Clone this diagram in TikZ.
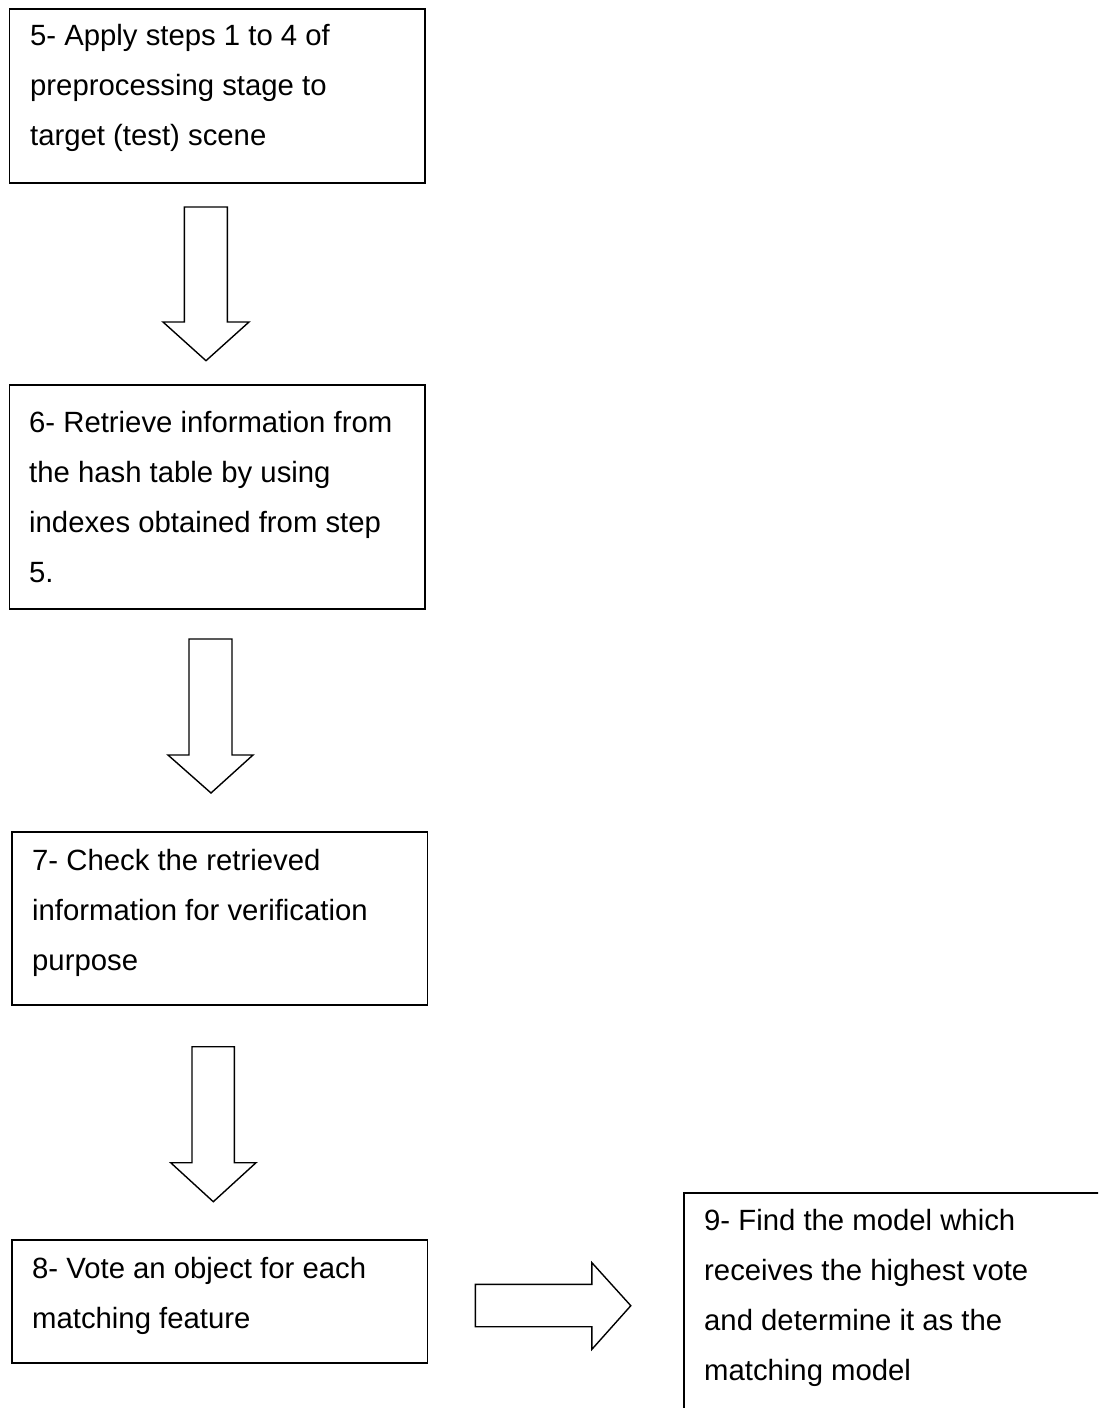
\documentclass[tikz,border=0pt]{standalone}
\usepackage{fontspec}
\setmainfont{Liberation Sans}
\begin{document}
\begin{tikzpicture}[x=1pt,y=-1pt,
  stepbox/.style={draw=black, line width=1.5pt, fill=none, inner sep=0pt, anchor=north west, minimum width=415.5pt},
  steptext/.style={inner sep=0pt, anchor=north west, align=left, font=\fontsize{29.3}{50}\selectfont},
  blockarrow/.style={draw=black, line width=1.4pt, fill=white, line join=miter}]
\useasboundingbox (0,0) rectangle (1098,1408);
\fill[white] (0,0) rectangle (1098,1408);

% boxes
\node[stepbox, minimum height=174pt] (b5) at (8.5,8) {};
\node[stepbox, minimum height=224pt] (b6) at (8.5,384) {};
\node[stepbox, minimum height=173pt] (b7) at (11,831) {};
\node[stepbox, minimum height=123pt] (b8) at (11,1239) {};
\begin{scope}
\clip (0,0) rectangle (1098,1408);
\node[stepbox, minimum height=260pt] (b9) at (683,1192) {};
\end{scope}

% texts
\node[steptext] (t5) at (30,10) {\strut 5- Apply steps 1 to 4 of\\ preprocessing stage to\\ target (test) scene};
\node[steptext] (t6) at (29,397) {\strut 6- Retrieve information from\\ the hash table by using\\ indexes obtained from step\\ 5.};
\node[steptext] (t7) at (32,835) {\strut 7- Check the retrieved\\ information for verification\\ purpose};
\node[steptext] (t8) at (32,1243) {\strut 8- Vote an object for each\\ matching feature};
\node[steptext] (t9) at (704,1195) {\strut 9- Find the model which\\ receives the highest vote\\ and determine it as the\\ matching model};

% block arrows
\draw[blockarrow] (184.3,207) -- (227.3,207) -- (227.3,322) -- (249,322) -- (206,360.7) -- (163,322) -- (184.3,322) -- cycle;
\draw[blockarrow] (189,639) -- (232,639) -- (232,755) -- (253,755) -- (211,793) -- (168,755) -- (189,755) -- cycle;
\draw[blockarrow] (192,1046.7) -- (234.3,1046.7) -- (234.3,1162.7) -- (256,1162.7) -- (213.3,1201.7) -- (170.7,1162.7) -- (192,1162.7) -- cycle;
\draw[blockarrow] (475.4,1284.3) -- (591.9,1284.3) -- (591.9,1262.7) -- (630.8,1305.7) -- (591.9,1349.3) -- (591.9,1326.7) -- (475.4,1326.7) -- cycle;
\end{tikzpicture}
\end{document}
